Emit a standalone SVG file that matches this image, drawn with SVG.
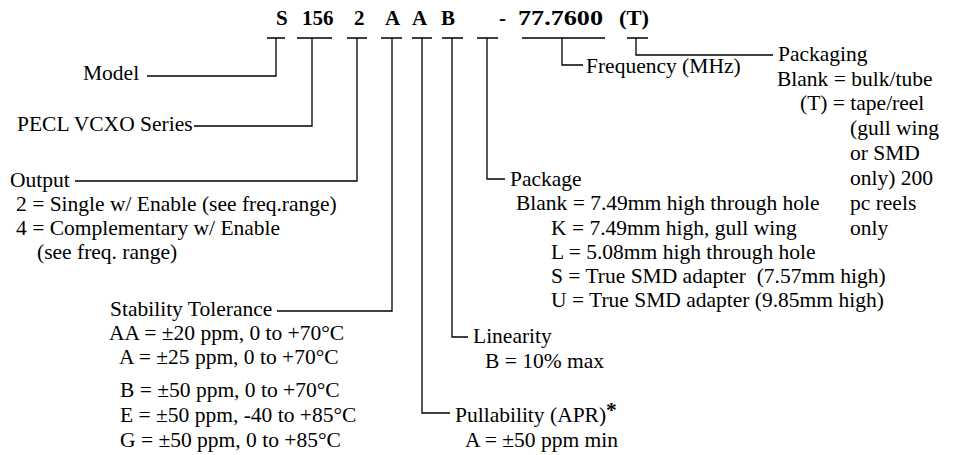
<svg xmlns="http://www.w3.org/2000/svg" width="958" height="455" viewBox="0 0 958 455">
<style>
text{font-family:"Liberation Serif","Times New Roman",serif;font-size:21.5px;fill:#000;white-space:pre}
.h{font-weight:bold;font-size:21px}
.c{fill:none;stroke:#000;stroke-width:1.3}
</style>
<rect width="958" height="455" fill="#fff"/>
<g id="header">
<text class="h" x="276" y="25">S</text>
<text class="h" x="302" y="25">156</text>
<text class="h" x="354" y="25">2</text>
<text class="h" x="385" y="25">A</text>
<text class="h" x="412" y="25">A</text>
<text class="h" x="441" y="25">B</text>
<text class="h" x="499" y="25">-</text>
<text class="h" x="518" y="25" textLength="85" lengthAdjust="spacingAndGlyphs">77.7600</text>
<text class="h" x="619" y="25" textLength="30" lengthAdjust="spacingAndGlyphs">(T)</text>
</g>
<g id="connectors" class="c">
<path d="M267 38H285M276 38V76H147"/>
<path d="M297 38H332M312 38V126H194"/>
<path d="M347 38H367M357 38V181H75"/>
<path d="M381 38H402M392 38V311H277"/>
<path d="M412 38H432M422 38V413H450"/>
<path d="M442 38H463M452 38V337H468"/>
<path d="M477 38H498M487 38V179H505"/>
<path d="M522 38H605M562 38V65H583"/>
<path d="M627 38H648M636 38V55H773"/>
</g>
<g id="model"><text x="83" y="80">Model</text></g>
<g id="series"><text x="17" y="131">PECL VCXO Series</text></g>
<g id="output">
<text x="10" y="187">Output</text>
<text x="16" y="211">2 = Single w/ Enable (see freq.range)</text>
<text x="16" y="235">4 = Complementary w/ Enable</text>
<text x="37" y="259">(see freq. range)</text>
</g>
<g id="stability">
<text x="110" y="316">Stability Tolerance</text>
<text x="109" y="340">AA = ±20 ppm, 0 to +70°C</text>
<text x="119" y="364">A = ±25 ppm, 0 to +70°C</text>
<text x="120" y="397">B = ±50 ppm, 0 to +70°C</text>
<text x="120" y="422">E = ±50 ppm, -40 to +85°C</text>
<text x="120" y="447">G = ±50 ppm, 0 to +85°C</text>
</g>
<g id="pullability">
<text x="455" y="422">Pullability (APR)<tspan font-weight="bold" dy="-5">*</tspan></text>
<text x="465" y="447">A = ±50 ppm min</text>
</g>
<g id="linearity">
<text x="473" y="343">Linearity</text>
<text x="485" y="368">B = 10% max</text>
</g>
<g id="package">
<text x="510" y="186">Package</text>
<text x="516" y="210">Blank = 7.49mm high through hole</text>
<text x="551" y="235">K = 7.49mm high, gull wing</text>
<text x="551" y="259">L = 5.08mm high through hole</text>
<text x="551" y="283">S = True SMD adapter  (7.57mm high)</text>
<text x="551" y="307">U = True SMD adapter (9.85mm high)</text>
</g>
<g id="frequency"><text x="586" y="73">Frequency (MHz)</text></g>
<g id="packaging">
<text x="778" y="61">Packaging</text>
<text x="777" y="86">Blank = bulk/tube</text>
<text x="800" y="110">(T) = tape/reel</text>
<text x="850" y="135">(gull wing</text>
<text x="850" y="160">or SMD</text>
<text x="850" y="185">only) 200</text>
<text x="850" y="210">pc reels</text>
<text x="850" y="235">only</text>
</g>
</svg>
